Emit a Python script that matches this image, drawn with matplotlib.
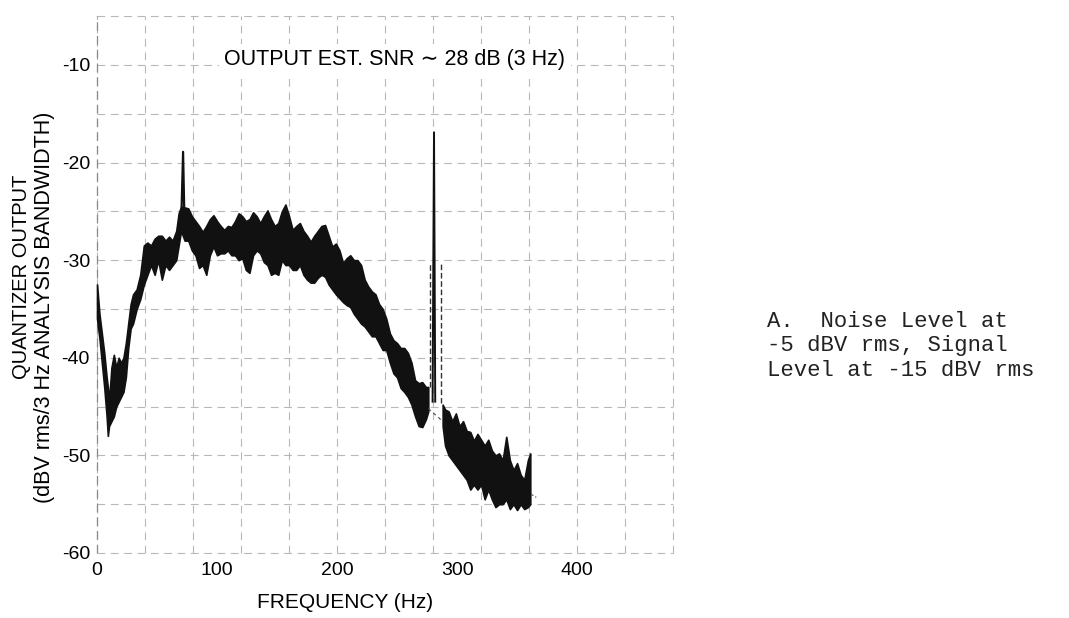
import matplotlib.pyplot as plt
import numpy as np

plt.rcParams["axes.unicode_minus"] = False

# noise band below the 280 Hz signal spike (Hz, dBV rms)
a_freq = [0, 2, 4, 6, 8, 9, 10, 12, 14, 16, 18, 20, 22, 24, 26, 28, 30, 33, 36, 39,
          42, 45, 48, 51, 54, 57, 60, 63, 66, 68, 70, 73, 76, 79, 82, 85, 88, 91, 94, 97,
          100, 103, 106, 109, 112, 115, 118, 121, 124, 127, 130, 133, 136, 139, 142, 145, 148, 151, 154, 157,
          160, 163, 166, 169, 172, 175, 178, 181, 184, 187, 190, 193, 196, 199, 202, 205, 208, 211, 214, 217,
          220, 223, 226, 229, 232, 235, 238, 241, 244, 247, 250, 253, 256, 259, 262, 265, 268, 271, 274, 276]
a_hi = [-32.5, -35.5, -37.5, -39.5, -42, -43, -44.5, -41, -39.7, -41, -40, -40.5, -40, -38.5, -36.5, -34.5, -33.5, -33, -31.5, -28.5,
        -28.2, -28.5, -27.8, -27.5, -27.5, -28, -27.6, -28, -27, -25.2, -24.5, -24.6, -24.7, -25.5, -26, -26.5, -27.1, -26.5, -25.8, -25.4,
        -26, -26.5, -26.9, -26.5, -26.6, -26, -25.2, -25.5, -26, -25.8, -25.1, -25.5, -26.2, -25.5, -24.9, -25.8, -26.5, -26.2, -25, -24.3,
        -25.5, -26.9, -26.5, -26.2, -27, -27.5, -28.1, -27.5, -27, -26.5, -26.4, -27.5, -28.6, -28.3, -29, -30.3, -29.8, -29.5, -30, -30,
        -30.5, -32, -32.7, -33.2, -33.5, -34.5, -35, -36, -37.5, -38.2, -38.5, -39, -39, -39.5, -40.5, -42.3, -42.6, -42.5, -43, -43]
a_lo = [-36, -38, -40.5, -43, -46, -48, -47, -46.5, -46, -45, -44.5, -44, -43.5, -42, -39, -37, -36.5, -35, -34, -32.5,
        -31.5, -30.5, -31.5, -30, -32, -30.5, -31, -30.5, -30, -28.5, -27, -28, -28, -29, -29.5, -30.8, -30.5, -31.5, -29.5, -28.6,
        -29.5, -29.3, -29.3, -29, -29.5, -29.5, -30, -29.8, -31, -31.3, -29.5, -29, -29.3, -30.2, -30.5, -31.5, -31.3, -31.5, -30, -30.5,
        -30.5, -31, -31, -30.5, -31.5, -32, -32.3, -32.3, -31.8, -31.5, -31.7, -32.5, -33, -33.5, -33.9, -34.3, -34.6, -34.8, -35.5, -36,
        -36.5, -36.8, -37.3, -37.8, -37.8, -38.5, -39.2, -39.2, -40.5, -41.6, -42, -43.1, -43.5, -44, -44.8, -46, -47, -47.1, -46.3, -45.5]

# noise band above the spike
b_freq = [288, 290, 293, 296, 299, 302, 305, 308, 311, 314, 317, 320, 323, 326, 329, 332, 335, 338, 341, 344,
          347, 350, 353, 356, 359, 361]
b_hi = [-44.8, -45.3, -45.5, -46.5, -45.7, -47, -46.5, -47.5, -47.6, -48.5, -47.8, -48.4, -49, -48.4, -49.5, -50, -49.8, -50.5, -48.1, -50.5,
        -51.5, -50.8, -52, -52.5, -50.5, -49.8]
b_lo = [-47, -49, -50, -50.5, -51, -51.5, -52, -52.5, -53.5, -53, -53.5, -53, -54.5, -53.5, -54.5, -55.3, -55, -55, -54.5, -55.5,
        -55, -55.6, -55, -55.5, -55.3, -55]

# tones and thin traces
spike1_freq = [70.5, 71.7, 72.6]
spike1_db = [-24.5, -18.9, -24.5]
spike2_freq = [279.6, 280.8, 281.8]
spike2_db = [-44.5, -16.9, -44.5]
skirt_freq = [277.5, 286.5]
skirt_top = [-30.3, -30.4]
skirt_bottom = [-43.0, -44.6]
gap_freq = [276, 288]
gap_db = [-45.2, -46.5]
tail_freq = [362, 366]
tail_db = [-54.0, -54.3]

fig = plt.figure(figsize=(10.69, 6.18), dpi=100)
ax = fig.add_axes([0.0874, 0.0973, 0.5456, 0.8845])

ax.set_xlim(-3, 483)
ax.set_ylim(-60.5, -4.5)

# graph paper grid
grid_kw = dict(color="#b8b8b8", lw=0.8, ls=(0, (7, 5)), zorder=0)
for gx in np.arange(0, 481, 40):
    ax.plot([gx, gx], [-60, -5], **grid_kw)
for gy in np.arange(-60, -4, 5):
    ax.plot([0, 480], [gy, gy], **grid_kw)
ax.plot([0, 0], [-60, -5], color="#8a8a8a", lw=0.9, ls=(0, (7, 4)), zorder=0)

ink = "#111111"
ax.fill_between(a_freq, a_lo, a_hi, color=ink, lw=1.2, edgecolor=ink, zorder=3)
ax.fill_between(b_freq, b_lo, b_hi, color=ink, lw=1.2, edgecolor=ink, zorder=3)
ax.plot(spike1_freq, spike1_db, color=ink, lw=1.6, zorder=3)
ax.plot(spike2_freq, spike2_db, color=ink, lw=1.4, zorder=3)
ax.vlines(skirt_freq, skirt_bottom, skirt_top, color="#333333", lw=1.0,
          linestyles=(0, (4, 2)), zorder=3)
ax.plot(gap_freq, gap_db, color="#444444", lw=0.8, ls=(0, (3, 3)), zorder=3)
ax.plot(tail_freq, tail_db, color="#444444", lw=0.8, ls=(0, (2, 2)), zorder=3)

for s in ax.spines.values():
    s.set_visible(False)

font = ["Liberation Sans", "DejaVu Sans"]
ax.set_xticks([0, 100, 200, 300, 400])
ax.set_xticklabels(["0", "100", "200", "300", "400"], family=font, fontsize=14)
ax.set_yticks([-10, -20, -30, -40, -50, -60])
ax.set_yticklabels(["-10", "-20", "-30", "-40", "-50", "-60"], family=font, fontsize=14)
ax.tick_params(length=0)
ax.tick_params(axis="x", pad=3)
ax.tick_params(axis="y", pad=2.5)

ax.text(0.517, 0.911, "OUTPUT EST. SNR \u223c 28 dB (3 Hz)", transform=ax.transAxes,
        ha="center", va="center", fontsize=15.5, family=font,
        bbox=dict(facecolor="white", edgecolor="none", pad=4), zorder=4)

fig.text(345 / 1069, 1 - 602 / 618, "FREQUENCY (Hz)", ha="center", va="center",
         fontsize=15, family=font)
fig.text(22 / 1069, 1 - 277 / 618, "QUANTIZER OUTPUT", rotation=90,
         ha="center", va="center", fontsize=14.5, family=font)
fig.text(45 / 1069, 1 - 307 / 618, "(dBV rms/3 Hz ANALYSIS BANDWIDTH)", rotation=90,
         ha="center", va="center", fontsize=15.5, family=font)

fig.text(767 / 1069, 1 - 346 / 618,
         "A.  Noise Level at\n-5 dBV rms, Signal\nLevel at -15 dBV rms",
         ha="left", va="center", fontsize=16, family="Liberation Mono",
         linespacing=1.22, color="#222222")

fig.savefig("out.png", dpi=100, facecolor="white")
